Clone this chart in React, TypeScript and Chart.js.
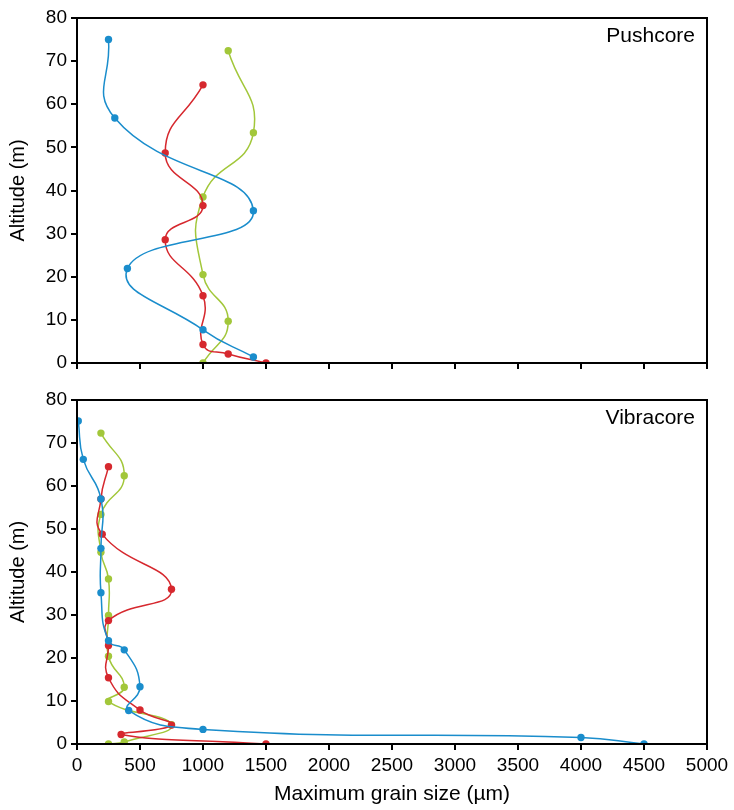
import React, { useEffect, useRef } from "react";
import { Chart, registerables } from "chart.js";

Chart.register(...registerables);

// ---------- Data ----------
// Pushcore (x = maximum grain size µm, y = altitude m)
const pushBlueX = [1400, 1000, 400, 1400, 300, 250];
const pushBlueY = [1.4, 7.7, 21.9, 35.3, 56.8, 75];
const pushRedX = [1500, 1200, 1000, 1000, 700, 1000, 700, 1000];
const pushRedY = [0, 2.1, 4.3, 15.6, 28.6, 36.5, 48.7, 64.5];
const pushGreenX = [1000, 1200, 1000, 1000, 1400, 1200];
const pushGreenY = [0, 9.7, 20.5, 38.5, 53.4, 72.4];

// Vibracore
const vibBlueX = [4500, 4000, 1000, 410, 500, 375, 250, 190, 190, 190, 50, 10];
const vibBlueY = [0, 1.5, 3.4, 7.8, 13.3, 21.9, 24, 35.2, 45.5, 57, 66.2, 75.1];
const vibRedX = [1500, 350, 750, 500, 250, 250, 250, 750, 200, 190, 250];
const vibRedY = [0, 2.2, 4.4, 7.9, 15.4, 22.9, 28.7, 36, 48.8, 57, 64.5];
const vibGreenX = [250, 375, 750, 250, 375, 250, 250, 250, 190, 190, 375, 190];
const vibGreenY = [0, 0.5, 4.5, 9.9, 13.2, 20.4, 29.9, 38.4, 44.6, 53.4, 62.4, 72.3];

const xTicks = [0, 500, 1000, 1500, 2000, 2500, 3000, 3500, 4000, 4500, 5000];
const yTicks = [0, 10, 20, 30, 40, 50, 60, 70, 80];

const BLUE = "#1a8dcc";
const RED = "#d6282e";
const GREEN = "#a2c73a";
const FONT = "'Liberation Sans', Arial, Helvetica, sans-serif";

function pts(xs: number[], ys: number[]) {
  return xs.map((x, i) => ({ x, y: ys[i] }));
}

function ds(label: string, xs: number[], ys: number[], color: string) {
  return {
    label,
    data: pts(xs, ys),
    showLine: true,
    borderColor: color,
    backgroundColor: color,
    borderWidth: 1.5,
    pointRadius: 3.7,
    pointBorderWidth: 0,
    pointHoverRadius: 3.7,
    tension: 0.5,
    clip: 0,
  };
}

function makeConfig(
  title: string,
  blue: any,
  red: any,
  green: any,
  bottom: boolean,
  padTop: number
) {
  const framePlugin = {
    id: "frame" + title,
    afterDatasetsDraw(chart: any) {
      const { ctx, chartArea } = chart;
      ctx.save();
      ctx.strokeStyle = "#000";
      ctx.lineWidth = 2;
      ctx.strokeRect(
        chartArea.left,
        chartArea.top,
        chartArea.right - chartArea.left,
        chartArea.bottom - chartArea.top
      );
      ctx.fillStyle = "#000";
      ctx.font = "21px " + FONT;
      ctx.textAlign = "right";
      ctx.textBaseline = "alphabetic";
      ctx.fillText(title, chartArea.right - 12, chartArea.top + 24);
      ctx.restore();
    },
  };
  return {
    type: "scatter" as const,
    data: { datasets: [blue, red, green] },
    plugins: [framePlugin],
    options: {
      animation: false,
      responsive: false,
      maintainAspectRatio: false,
      events: [],
      layout: { padding: { top: padTop, right: 27, left: 0, bottom: 0 } },
      plugins: { legend: { display: false }, tooltip: { enabled: false } },
      scales: {
        x: {
          type: "linear",
          min: 0,
          max: 5000,
          afterBuildTicks(scale: any) {
            scale.ticks = xTicks.map((v) => ({ value: v }));
          },
          afterFit(scale: any) {
            scale.height = bottom ? 66 : 17;
          },
          border: { display: true, color: "#000", width: 2 },
          grid: {
            drawOnChartArea: false,
            drawTicks: true,
            tickLength: 6,
            color: "#000",
            lineWidth: 2,
          },
          ticks: {
            display: bottom,
            color: "#000",
            padding: 4,
            maxRotation: 0,
            autoSkip: false,
            callback: (v: any) => String(v),
            font: { family: FONT, size: 19 },
          },
          title: {
            display: bottom,
            text: "Maximum grain size (\u00b5m)",
            color: "#000",
            font: { family: FONT, size: 21 },
            padding: { top: 0, bottom: 3 },
          },
        },
        y: {
          type: "linear",
          min: 0,
          max: 80,
          afterBuildTicks(scale: any) {
            scale.ticks = yTicks.map((v) => ({ value: v }));
          },
          afterFit(scale: any) {
            scale.width = 77;
          },
          border: { display: true, color: "#000", width: 2 },
          grid: {
            drawOnChartArea: false,
            drawTicks: true,
            tickLength: 6,
            color: "#000",
            lineWidth: 2,
          },
          ticks: {
            color: "#000",
            padding: 4,
            autoSkip: false,
            callback: (v: any) => String(v),
            font: { family: FONT, size: 19 },
          },
          title: {
            display: true,
            text: "Altitude (m)",
            color: "#000",
            font: { family: FONT, size: 20 },
            padding: { top: 6, bottom: 0 },
          },
        },
      },
    },
  };
}

function Panel(props: {
  title: string;
  blue: any;
  red: any;
  green: any;
  bottom: boolean;
  height: number;
  top: number;
  padTop: number;
}) {
  const ref = useRef<HTMLCanvasElement | null>(null);
  useEffect(() => {
    if (!ref.current) return;
    const chart = new Chart(
      ref.current,
      makeConfig(props.title, props.blue, props.red, props.green, props.bottom, props.padTop) as any
    );
    return () => chart.destroy();
  }, []);
  return (
    <div
      style={{
        position: "absolute",
        left: 0,
        top: props.top,
        width: 734,
        height: props.height,
      }}
    >
      <canvas ref={ref} width={734} height={props.height} style={{ display: "block" }} />
    </div>
  );
}

export default function App() {
  return (
    <div
      style={{
        position: "absolute",
        left: 0,
        top: 0,
        width: 734,
        height: 810,
        background: "#fff",
      }}
    >
      <Panel
        title="Pushcore"
        blue={ds("Blue", pushBlueX, pushBlueY, BLUE)}
        red={ds("Red", pushRedX, pushRedY, RED)}
        green={ds("Green", pushGreenX, pushGreenY, GREEN)}
        bottom={false}
        height={380}
        top={0}
        padTop={18}
      />
      <Panel
        title="Vibracore"
        blue={ds("Blue", vibBlueX, vibBlueY, BLUE)}
        red={ds("Red", vibRedX, vibRedY, RED)}
        green={ds("Green", vibGreenX, vibGreenY, GREEN)}
        bottom={true}
        height={430}
        top={380}
        padTop={20}
      />
    </div>
  );
}
